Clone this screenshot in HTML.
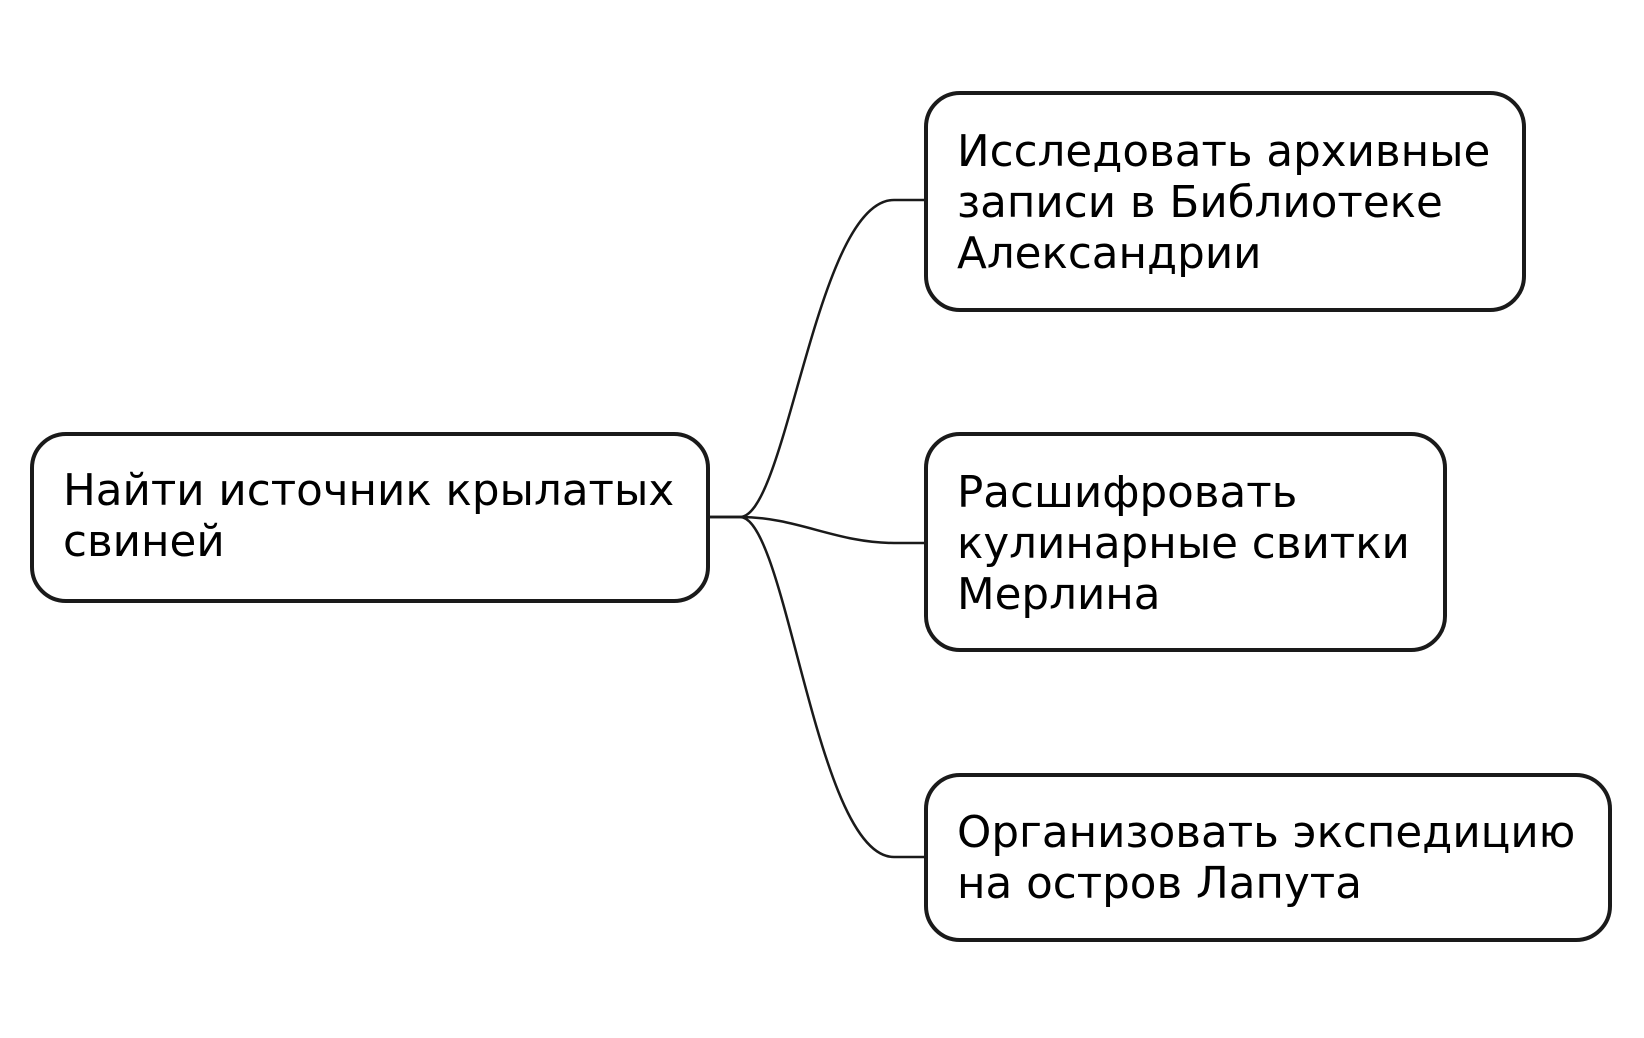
<!DOCTYPE html>
<html><head><meta charset="utf-8"><style>
html,body{margin:0;padding:0;background:#fff;}
svg{display:block}
text{font-family:"DejaVu Sans","Liberation Sans",sans-serif;font-size:43.6px;fill:#000;}
</style></head><body>
<svg width="1644" height="1038" viewBox="0 0 1644 1038">
<g fill="none" stroke="#1a1a1a" stroke-width="2.5">
<path d="M708 517 H740 C787 517 816 200 894 200 H926"/>
<path d="M708 517 H740 C797 517 836 543 894 543 H926"/>
<path d="M708 517 H740 C787 517 816 857 894 857 H926"/>
</g>
<g fill="#fff" stroke="#1a1a1a" stroke-width="4">
<rect x="32" y="434" width="676" height="167" rx="34"/>
<rect x="926" y="93" width="598" height="217" rx="34"/>
<rect x="926" y="434" width="519" height="216" rx="34"/>
<rect x="926" y="775" width="684" height="165" rx="34"/>
</g>
<text x="63" y="505">Найти источник крылатых</text>
<text x="63" y="556">свиней</text>
<text x="957" y="166">Исследовать архивные</text>
<text x="957" y="217">записи в Библиотеке</text>
<text x="957" y="268">Александрии</text>
<text x="957" y="507">Расшифровать</text>
<text x="957" y="558">кулинарные свитки</text>
<text x="957" y="609">Мерлина</text>
<text x="957" y="847">Организовать экспедицию</text>
<text x="957" y="898">на остров Лапута</text>
</svg>
</body></html>
